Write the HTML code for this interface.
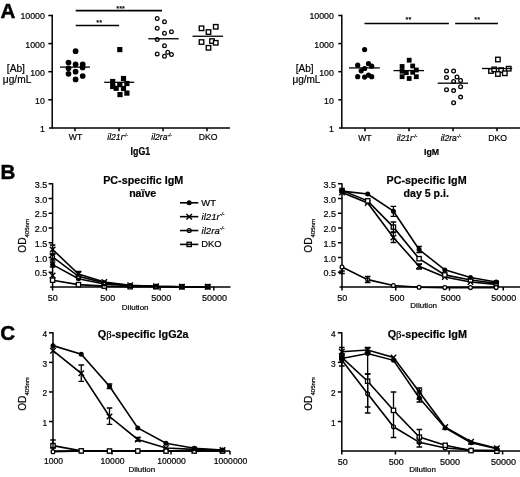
<!DOCTYPE html>
<html><head><meta charset="utf-8"><title>Figure</title>
<style>
html,body{margin:0;padding:0;background:#fff;}
body{width:520px;height:477px;overflow:hidden;font-family:"Liberation Sans",sans-serif;}
svg{display:block;filter:grayscale(1);}
svg text{font-family:"Liberation Sans",sans-serif;fill:#000;stroke:#000;stroke-width:0.2px;}
</style></head><body>
<svg width="520" height="477" viewBox="0 0 520 477">
<rect x="0" y="0" width="520" height="477" fill="#fff"/>
<text x="0.4" y="17.8" font-size="20.6" text-anchor="start" font-weight="bold" font-style="normal" style="stroke-width:0.45px">A</text>
<text x="0.4" y="179.4" font-size="20.6" text-anchor="start" font-weight="bold" font-style="normal" style="stroke-width:0.45px">B</text>
<text x="0.3" y="340" font-size="20.6" text-anchor="start" font-weight="bold" font-style="normal" style="stroke-width:0.45px">C</text>
<line x1="52.2" y1="14.8" x2="52.2" y2="128.6" stroke="#000" stroke-width="1.5"/>
<line x1="49" y1="128" x2="230" y2="128" stroke="#000" stroke-width="1.5"/>
<line x1="48.3" y1="15.5" x2="52.2" y2="15.5" stroke="#000" stroke-width="1.5"/>
<text x="44.9" y="19.4" font-size="8.8" text-anchor="end" font-weight="normal" font-style="normal" >10000</text>
<line x1="48.3" y1="43.6" x2="52.2" y2="43.6" stroke="#000" stroke-width="1.5"/>
<text x="44.9" y="47.5" font-size="8.8" text-anchor="end" font-weight="normal" font-style="normal" >1000</text>
<line x1="48.3" y1="71.7" x2="52.2" y2="71.7" stroke="#000" stroke-width="1.5"/>
<text x="44.9" y="75.60000000000001" font-size="8.8" text-anchor="end" font-weight="normal" font-style="normal" >100</text>
<line x1="48.3" y1="99.80000000000001" x2="52.2" y2="99.80000000000001" stroke="#000" stroke-width="1.5"/>
<text x="44.9" y="103.70000000000002" font-size="8.8" text-anchor="end" font-weight="normal" font-style="normal" >10</text>
<text x="44.9" y="131.8" font-size="8.8" text-anchor="end" font-weight="normal" font-style="normal" >1</text>
<text x="15.9" y="72.4" font-size="10.2" text-anchor="middle" font-weight="normal" font-style="normal" >[Ab]</text>
<text x="17.1" y="83.3" font-size="10.2" text-anchor="middle" font-weight="normal" font-style="normal" >&#956;g/mL</text>
<line x1="75" y1="128" x2="75" y2="131.2" stroke="#000" stroke-width="1.5"/>
<line x1="119" y1="128" x2="119" y2="131.2" stroke="#000" stroke-width="1.5"/>
<line x1="163" y1="128" x2="163" y2="131.2" stroke="#000" stroke-width="1.5"/>
<line x1="207" y1="128" x2="207" y2="131.2" stroke="#000" stroke-width="1.5"/>
<text x="75.5" y="140.4" font-size="8.7" text-anchor="middle" font-weight="normal" font-style="normal" >WT</text>
<text x="117.5" y="140.4" font-size="8.6" text-anchor="middle" font-weight="normal" font-style="italic" >il21r<tspan font-size="4.5" dy="-3">-/-</tspan></text>
<text x="161.5" y="140.4" font-size="8.6" text-anchor="middle" font-weight="normal" font-style="italic" >il2ra<tspan font-size="4.5" dy="-3">-/-</tspan></text>
<text x="208.2" y="140.4" font-size="8.7" text-anchor="middle" font-weight="normal" font-style="normal" >DKO</text>
<g transform="translate(140.4,154.9) scale(0.86,1)"><text x="0" y="0" font-size="10.3" text-anchor="middle" font-weight="bold">IgG1</text></g>
<circle cx="75.6" cy="51.2" r="2.85" fill="#000"/>
<circle cx="68.5" cy="62.5" r="2.85" fill="#000"/>
<circle cx="75.6" cy="64.4" r="2.85" fill="#000"/>
<circle cx="82.7" cy="64.4" r="2.85" fill="#000"/>
<circle cx="68.5" cy="68.3" r="2.85" fill="#000"/>
<circle cx="75.6" cy="71.7" r="2.85" fill="#000"/>
<circle cx="68.5" cy="73.8" r="2.85" fill="#000"/>
<circle cx="82.7" cy="76" r="2.85" fill="#000"/>
<circle cx="75.6" cy="79.4" r="2.85" fill="#000"/>
<circle cx="82.6" cy="67.4" r="2.85" fill="#000"/>
<rect x="117.2" y="47.0" width="5.2" height="5.2" fill="#000"/>
<rect x="120.9" y="75.9" width="5.2" height="5.2" fill="#000"/>
<rect x="110.10000000000001" y="78.9" width="5.2" height="5.2" fill="#000"/>
<rect x="110.10000000000001" y="83.9" width="5.2" height="5.2" fill="#000"/>
<rect x="124.30000000000001" y="80.9" width="5.2" height="5.2" fill="#000"/>
<rect x="117.2" y="82.0" width="5.2" height="5.2" fill="#000"/>
<rect x="113.60000000000001" y="85.7" width="5.2" height="5.2" fill="#000"/>
<rect x="120.9" y="85.9" width="5.2" height="5.2" fill="#000"/>
<rect x="117.4" y="92.0" width="5.2" height="5.2" fill="#000"/>
<rect x="124.30000000000001" y="90.5" width="5.2" height="5.2" fill="#000"/>
<circle cx="157.25" cy="18.55" r="1.85" fill="#fff" stroke="#000" stroke-width="1.3"/>
<circle cx="164.5" cy="21.8" r="1.85" fill="#fff" stroke="#000" stroke-width="1.3"/>
<circle cx="157.25" cy="28.3" r="1.85" fill="#fff" stroke="#000" stroke-width="1.3"/>
<circle cx="164.5" cy="33.3" r="1.85" fill="#fff" stroke="#000" stroke-width="1.3"/>
<circle cx="171.5" cy="31.8" r="1.85" fill="#fff" stroke="#000" stroke-width="1.3"/>
<circle cx="157.25" cy="39.55" r="1.85" fill="#fff" stroke="#000" stroke-width="1.3"/>
<circle cx="164.5" cy="45.8" r="1.85" fill="#fff" stroke="#000" stroke-width="1.3"/>
<circle cx="157.25" cy="54.05" r="1.85" fill="#fff" stroke="#000" stroke-width="1.3"/>
<circle cx="164.5" cy="56.3" r="1.85" fill="#fff" stroke="#000" stroke-width="1.3"/>
<circle cx="167.75" cy="52.3" r="1.85" fill="#fff" stroke="#000" stroke-width="1.3"/>
<circle cx="171.5" cy="54.55" r="1.85" fill="#fff" stroke="#000" stroke-width="1.3"/>
<rect x="199.25" y="26.05" width="4.5" height="4.5" fill="#fff" stroke="#000" stroke-width="1.35"/>
<rect x="206.25" y="29.799999999999997" width="4.5" height="4.5" fill="#fff" stroke="#000" stroke-width="1.35"/>
<rect x="213.5" y="24.55" width="4.5" height="4.5" fill="#fff" stroke="#000" stroke-width="1.35"/>
<rect x="199.25" y="39.8" width="4.5" height="4.5" fill="#fff" stroke="#000" stroke-width="1.35"/>
<rect x="206.25" y="45.55" width="4.5" height="4.5" fill="#fff" stroke="#000" stroke-width="1.35"/>
<rect x="209.75" y="38.8" width="4.5" height="4.5" fill="#fff" stroke="#000" stroke-width="1.35"/>
<rect x="213.5" y="40.55" width="4.5" height="4.5" fill="#fff" stroke="#000" stroke-width="1.35"/>
<line x1="60" y1="67.1" x2="90" y2="67.1" stroke="#000" stroke-width="1.3"/>
<line x1="104.2" y1="82.3" x2="134.2" y2="82.3" stroke="#000" stroke-width="1.3"/>
<line x1="148.25" y1="38.75" x2="178.75" y2="38.75" stroke="#000" stroke-width="1.3"/>
<line x1="192.5" y1="36.25" x2="223" y2="36.25" stroke="#000" stroke-width="1.3"/>
<line x1="75.7" y1="10.6" x2="162" y2="10.6" stroke="#000" stroke-width="1.6"/>
<text x="120.6" y="10.5" font-size="7.4" text-anchor="middle" font-weight="normal" font-style="normal" >***</text>
<line x1="75.7" y1="25.5" x2="119.1" y2="25.5" stroke="#000" stroke-width="1.6"/>
<text x="99.2" y="25.4" font-size="7.4" text-anchor="middle" font-weight="normal" font-style="normal" >**</text>
<line x1="341.8" y1="14.8" x2="341.8" y2="128.6" stroke="#000" stroke-width="1.5"/>
<line x1="339" y1="128" x2="520" y2="128" stroke="#000" stroke-width="1.5"/>
<line x1="338.3" y1="15.5" x2="341.8" y2="15.5" stroke="#000" stroke-width="1.5"/>
<text x="333.9" y="19.4" font-size="8.8" text-anchor="end" font-weight="normal" font-style="normal" >10000</text>
<line x1="338.3" y1="43.6" x2="341.8" y2="43.6" stroke="#000" stroke-width="1.5"/>
<text x="333.9" y="47.5" font-size="8.8" text-anchor="end" font-weight="normal" font-style="normal" >1000</text>
<line x1="338.3" y1="71.7" x2="341.8" y2="71.7" stroke="#000" stroke-width="1.5"/>
<text x="333.9" y="75.60000000000001" font-size="8.8" text-anchor="end" font-weight="normal" font-style="normal" >100</text>
<line x1="338.3" y1="99.80000000000001" x2="341.8" y2="99.80000000000001" stroke="#000" stroke-width="1.5"/>
<text x="333.9" y="103.70000000000002" font-size="8.8" text-anchor="end" font-weight="normal" font-style="normal" >10</text>
<text x="333.9" y="131.8" font-size="8.8" text-anchor="end" font-weight="normal" font-style="normal" >1</text>
<text x="304.7" y="72.4" font-size="10" text-anchor="middle" font-weight="normal" font-style="normal" >[Ab]</text>
<text x="306.4" y="83.3" font-size="10" text-anchor="middle" font-weight="normal" font-style="normal" >&#956;g/mL</text>
<line x1="365" y1="128" x2="365" y2="131.2" stroke="#000" stroke-width="1.5"/>
<line x1="409" y1="128" x2="409" y2="131.2" stroke="#000" stroke-width="1.5"/>
<line x1="453" y1="128" x2="453" y2="131.2" stroke="#000" stroke-width="1.5"/>
<line x1="497" y1="128" x2="497" y2="131.2" stroke="#000" stroke-width="1.5"/>
<text x="364.9" y="140.8" font-size="8.7" text-anchor="middle" font-weight="normal" font-style="normal" >WT</text>
<text x="406.9" y="140.8" font-size="8.6" text-anchor="middle" font-weight="normal" font-style="italic" >il21r<tspan font-size="4.5" dy="-3">-/-</tspan></text>
<text x="450.9" y="140.8" font-size="8.6" text-anchor="middle" font-weight="normal" font-style="italic" >il2ra<tspan font-size="4.5" dy="-3">-/-</tspan></text>
<text x="497.59999999999997" y="140.8" font-size="8.7" text-anchor="middle" font-weight="normal" font-style="normal" >DKO</text>
<g transform="translate(431.6,154.8) scale(0.92,1)"><text x="0" y="0" font-size="9.6" text-anchor="middle" font-weight="bold">IgM</text></g>
<circle cx="364.6" cy="49.6" r="2.6" fill="#000"/>
<circle cx="368.5" cy="63.7" r="2.6" fill="#000"/>
<circle cx="357.7" cy="65.2" r="2.6" fill="#000"/>
<circle cx="371.7" cy="66.2" r="2.6" fill="#000"/>
<circle cx="364.6" cy="68.5" r="2.6" fill="#000"/>
<circle cx="361.2" cy="70.8" r="2.6" fill="#000"/>
<circle cx="368.5" cy="75.2" r="2.6" fill="#000"/>
<circle cx="357.7" cy="76.7" r="2.6" fill="#000"/>
<circle cx="364.6" cy="77.1" r="2.6" fill="#000"/>
<circle cx="371.7" cy="76.7" r="2.6" fill="#000"/>
<rect x="406.8" y="57.800000000000004" width="4.8" height="4.8" fill="#000"/>
<rect x="399.70000000000005" y="64.1" width="4.8" height="4.8" fill="#000"/>
<rect x="410.3" y="63.6" width="4.8" height="4.8" fill="#000"/>
<rect x="413.90000000000003" y="67.6" width="4.8" height="4.8" fill="#000"/>
<rect x="399.70000000000005" y="68.89999999999999" width="4.8" height="4.8" fill="#000"/>
<rect x="403.90000000000003" y="70.3" width="4.8" height="4.8" fill="#000"/>
<rect x="410.3" y="69.89999999999999" width="4.8" height="4.8" fill="#000"/>
<rect x="399.70000000000005" y="74.3" width="4.8" height="4.8" fill="#000"/>
<rect x="406.8" y="76.1" width="4.8" height="4.8" fill="#000"/>
<rect x="413.90000000000003" y="74.3" width="4.8" height="4.8" fill="#000"/>
<circle cx="446.5" cy="71.0" r="1.85" fill="#fff" stroke="#000" stroke-width="1.3"/>
<circle cx="453.6" cy="71.0" r="1.85" fill="#fff" stroke="#000" stroke-width="1.3"/>
<circle cx="446.5" cy="77.5" r="1.85" fill="#fff" stroke="#000" stroke-width="1.3"/>
<circle cx="457.0" cy="77.0" r="1.85" fill="#fff" stroke="#000" stroke-width="1.3"/>
<circle cx="453.6" cy="81.39999999999999" r="1.85" fill="#fff" stroke="#000" stroke-width="1.3"/>
<circle cx="460.6" cy="80.5" r="1.85" fill="#fff" stroke="#000" stroke-width="1.3"/>
<circle cx="460.6" cy="86.7" r="1.85" fill="#fff" stroke="#000" stroke-width="1.3"/>
<circle cx="446.5" cy="89.7" r="1.85" fill="#fff" stroke="#000" stroke-width="1.3"/>
<circle cx="453.6" cy="90.6" r="1.85" fill="#fff" stroke="#000" stroke-width="1.3"/>
<circle cx="460.6" cy="97.1" r="1.85" fill="#fff" stroke="#000" stroke-width="1.3"/>
<circle cx="453.6" cy="102.8" r="1.85" fill="#fff" stroke="#000" stroke-width="1.3"/>
<rect x="495.65" y="57.25" width="4.5" height="4.5" fill="#fff" stroke="#000" stroke-width="1.35"/>
<rect x="488.75" y="68.75" width="4.5" height="4.5" fill="#fff" stroke="#000" stroke-width="1.35"/>
<rect x="491.95" y="67.14999999999999" width="4.5" height="4.5" fill="#fff" stroke="#000" stroke-width="1.35"/>
<rect x="498.85" y="67.85" width="4.5" height="4.5" fill="#fff" stroke="#000" stroke-width="1.35"/>
<rect x="506.45" y="66.45" width="4.5" height="4.5" fill="#fff" stroke="#000" stroke-width="1.35"/>
<rect x="495.65" y="71.75" width="4.5" height="4.5" fill="#fff" stroke="#000" stroke-width="1.35"/>
<rect x="502.55" y="71.05" width="4.5" height="4.5" fill="#fff" stroke="#000" stroke-width="1.35"/>
<line x1="349" y1="67.9" x2="379.8" y2="67.9" stroke="#000" stroke-width="1.3"/>
<line x1="393.5" y1="70.6" x2="424" y2="70.6" stroke="#000" stroke-width="1.3"/>
<line x1="437.7" y1="83.2" x2="468" y2="83.2" stroke="#000" stroke-width="1.3"/>
<line x1="482" y1="68.5" x2="512.2" y2="68.5" stroke="#000" stroke-width="1.3"/>
<line x1="364.5" y1="23.5" x2="448.9" y2="23.5" stroke="#000" stroke-width="1.3"/>
<text x="408.5" y="22.0" font-size="7.4" text-anchor="middle" font-weight="normal" font-style="normal" >**</text>
<line x1="455.2" y1="23.5" x2="497.9" y2="23.5" stroke="#000" stroke-width="1.3"/>
<text x="477.2" y="22.0" font-size="7.4" text-anchor="middle" font-weight="normal" font-style="normal" >**</text>
<line x1="52.6" y1="183.2" x2="52.6" y2="287.6" stroke="#000" stroke-width="1.5"/>
<line x1="50.1" y1="287" x2="230.5" y2="287" stroke="#000" stroke-width="1.5"/>
<line x1="48.6" y1="272.25" x2="52.6" y2="272.25" stroke="#000" stroke-width="1.5"/>
<text x="47.2" y="276.25" font-size="9" text-anchor="end" font-weight="normal" font-style="normal" >0.5</text>
<line x1="48.6" y1="257.5" x2="52.6" y2="257.5" stroke="#000" stroke-width="1.5"/>
<text x="47.2" y="261.5" font-size="9" text-anchor="end" font-weight="normal" font-style="normal" >1.0</text>
<line x1="48.6" y1="242.75" x2="52.6" y2="242.75" stroke="#000" stroke-width="1.5"/>
<text x="47.2" y="246.75" font-size="9" text-anchor="end" font-weight="normal" font-style="normal" >1.5</text>
<line x1="48.6" y1="228.0" x2="52.6" y2="228.0" stroke="#000" stroke-width="1.5"/>
<text x="47.2" y="232.0" font-size="9" text-anchor="end" font-weight="normal" font-style="normal" >2.0</text>
<line x1="48.6" y1="213.25" x2="52.6" y2="213.25" stroke="#000" stroke-width="1.5"/>
<text x="47.2" y="217.25" font-size="9" text-anchor="end" font-weight="normal" font-style="normal" >2.5</text>
<line x1="48.6" y1="198.5" x2="52.6" y2="198.5" stroke="#000" stroke-width="1.5"/>
<text x="47.2" y="202.5" font-size="9" text-anchor="end" font-weight="normal" font-style="normal" >3.0</text>
<line x1="48.6" y1="183.75" x2="52.6" y2="183.75" stroke="#000" stroke-width="1.5"/>
<text x="47.2" y="187.75" font-size="9" text-anchor="end" font-weight="normal" font-style="normal" >3.5</text>
<line x1="52.6" y1="287" x2="52.6" y2="290.6" stroke="#000" stroke-width="1.5"/>
<text x="52.800000000000004" y="300.5" font-size="9" text-anchor="middle" font-weight="normal" font-style="normal" >50</text>
<line x1="106.35" y1="287" x2="106.35" y2="290.6" stroke="#000" stroke-width="1.5"/>
<text x="107.64999999999999" y="300.5" font-size="9" text-anchor="middle" font-weight="normal" font-style="normal" >500</text>
<line x1="160.1" y1="287" x2="160.1" y2="290.6" stroke="#000" stroke-width="1.5"/>
<text x="161.29999999999998" y="300.5" font-size="9" text-anchor="middle" font-weight="normal" font-style="normal" >5000</text>
<line x1="213.85" y1="287" x2="213.85" y2="290.6" stroke="#000" stroke-width="1.5"/>
<text x="214.45" y="300.5" font-size="9" text-anchor="middle" font-weight="normal" font-style="normal" >50000</text>
<text x="135.2" y="309.5" font-size="8" text-anchor="middle" font-weight="normal" font-style="normal" >Dilution</text>
<text x="143.2" y="184.2" font-size="10.75" text-anchor="middle" font-weight="bold" font-style="normal" >PC-specific IgM</text>
<text x="142.7" y="197.3" font-size="10.6" text-anchor="middle" font-weight="bold" font-style="normal" >na&#239;ve</text>
<g transform="translate(25.7,252.7) rotate(-90)"><text x="0" y="0" font-size="10.2" text-anchor="start">OD<tspan font-size="6" dy="3.2">405nm</tspan></text></g>
<polyline points="52.6,280.21 78.45,284.64 104.30000000000001,286.12 130.15,286.7 156.0,286.7 181.85,286.7 207.70000000000002,286.7" fill="none" stroke="#000" stroke-width="1.6"/>
<rect x="50.45" y="278.06" width="4.3" height="4.3" fill="#fff" stroke="#000" stroke-width="1.3"/>
<rect x="76.3" y="282.49" width="4.3" height="4.3" fill="#fff" stroke="#000" stroke-width="1.3"/>
<rect x="102.15" y="283.97" width="4.3" height="4.3" fill="#fff" stroke="#000" stroke-width="1.3"/>
<rect x="128.0" y="284.55" width="4.3" height="4.3" fill="#fff" stroke="#000" stroke-width="1.3"/>
<rect x="153.85" y="284.55" width="4.3" height="4.3" fill="#fff" stroke="#000" stroke-width="1.3"/>
<rect x="179.7" y="284.55" width="4.3" height="4.3" fill="#fff" stroke="#000" stroke-width="1.3"/>
<rect x="205.55" y="284.55" width="4.3" height="4.3" fill="#fff" stroke="#000" stroke-width="1.3"/>
<polyline points="52.6,264.58 78.45,278.74 104.30000000000001,284.05 130.15,285.82 156.0,286.56 181.85,286.7 207.70000000000002,286.7" fill="none" stroke="#000" stroke-width="1.6"/>
<circle cx="52.6" cy="264.58" r="2.5" fill="#000"/>
<circle cx="78.45" cy="278.74" r="2.5" fill="#000"/>
<circle cx="104.30000000000001" cy="284.05" r="2.5" fill="#000"/>
<circle cx="130.15" cy="285.82" r="2.5" fill="#000"/>
<circle cx="156.0" cy="286.56" r="2.5" fill="#000"/>
<circle cx="181.85" cy="286.7" r="2.5" fill="#000"/>
<circle cx="207.70000000000002" cy="286.7" r="2.5" fill="#000"/>
<path d="M52.6 262L52.6 267M49.800000000000004 262L55.4 262M49.800000000000004 267L55.4 267" stroke="#000" stroke-width="1.3" fill="none"/>
<polyline points="52.6,256.91 78.45,276.38 104.30000000000001,282.87 130.15,285.52 156.0,286.41 181.85,286.7 207.70000000000002,286.7" fill="none" stroke="#000" stroke-width="1.6"/>
<circle cx="52.6" cy="256.91" r="1.9" fill="#fff" stroke="#000" stroke-width="1.3"/>
<circle cx="78.45" cy="276.38" r="1.9" fill="#fff" stroke="#000" stroke-width="1.3"/>
<circle cx="104.30000000000001" cy="282.87" r="1.9" fill="#fff" stroke="#000" stroke-width="1.3"/>
<circle cx="130.15" cy="285.52" r="1.9" fill="#fff" stroke="#000" stroke-width="1.3"/>
<circle cx="156.0" cy="286.41" r="1.9" fill="#fff" stroke="#000" stroke-width="1.3"/>
<circle cx="181.85" cy="286.7" r="1.9" fill="#fff" stroke="#000" stroke-width="1.3"/>
<circle cx="207.70000000000002" cy="286.7" r="1.9" fill="#fff" stroke="#000" stroke-width="1.3"/>
<path d="M52.6 254L52.6 260M49.800000000000004 254L55.4 254M49.800000000000004 260L55.4 260" stroke="#000" stroke-width="1.3" fill="none"/>
<polyline points="52.6,249.53 78.45,274.02 104.30000000000001,281.99 130.15,285.23 156.0,286.26 181.85,286.7 207.70000000000002,286.7" fill="none" stroke="#000" stroke-width="1.6"/>
<path d="M49.85 246.78L55.35 252.28M49.85 252.28L55.35 246.78" stroke="#000" stroke-width="1.4" fill="none"/>
<path d="M75.7 271.27L81.2 276.77M75.7 276.77L81.2 271.27" stroke="#000" stroke-width="1.4" fill="none"/>
<path d="M101.55000000000001 279.24L107.05000000000001 284.74M101.55000000000001 284.74L107.05000000000001 279.24" stroke="#000" stroke-width="1.4" fill="none"/>
<path d="M127.4 282.48L132.9 287.98M127.4 287.98L132.9 282.48" stroke="#000" stroke-width="1.4" fill="none"/>
<path d="M153.25 283.51L158.75 289.01M153.25 289.01L158.75 283.51" stroke="#000" stroke-width="1.4" fill="none"/>
<path d="M179.1 283.95L184.6 289.45M179.1 289.45L184.6 283.95" stroke="#000" stroke-width="1.4" fill="none"/>
<path d="M204.95000000000002 283.95L210.45000000000002 289.45M204.95000000000002 289.45L210.45000000000002 283.95" stroke="#000" stroke-width="1.4" fill="none"/>
<path d="M52.6 245L52.6 254M49.800000000000004 245L55.4 245M49.800000000000004 254L55.4 254" stroke="#000" stroke-width="1.3" fill="none"/>
<path d="M78.45 271.5L78.45 276M75.65 271.5L81.25 271.5M75.65 276L81.25 276" stroke="#000" stroke-width="1.3" fill="none"/>
<line x1="180" y1="202.8" x2="198.3" y2="202.8" stroke="#000" stroke-width="1.6"/>
<circle cx="189.2" cy="202.8" r="2.5" fill="#000"/>
<text x="201.3" y="205.8" font-size="9.4" text-anchor="start" font-weight="normal" font-style="normal" >WT</text>
<line x1="180" y1="216.67000000000002" x2="198.3" y2="216.67000000000002" stroke="#000" stroke-width="1.6"/>
<path d="M186.45 213.92000000000002L191.95 219.42000000000002M186.45 219.42000000000002L191.95 213.92000000000002" stroke="#000" stroke-width="1.4" fill="none"/>
<text x="201.6" y="219.67000000000002" font-size="9.6" text-anchor="start" font-weight="normal" font-style="italic" >il21r<tspan font-size="5" dy="-3.2">-/-</tspan></text>
<line x1="180" y1="230.54000000000002" x2="198.3" y2="230.54000000000002" stroke="#000" stroke-width="1.6"/>
<circle cx="189.2" cy="230.54000000000002" r="1.9" fill="none" stroke="#000" stroke-width="1.3"/>
<text x="201.6" y="233.54000000000002" font-size="9.6" text-anchor="start" font-weight="normal" font-style="italic" >il2ra<tspan font-size="5" dy="-3.2">-/-</tspan></text>
<line x1="180" y1="244.41000000000003" x2="198.3" y2="244.41000000000003" stroke="#000" stroke-width="1.6"/>
<rect x="187.04999999999998" y="242.26000000000002" width="4.3" height="4.3" fill="none" stroke="#000" stroke-width="1.3"/>
<text x="201.3" y="247.41000000000003" font-size="9.4" text-anchor="start" font-weight="normal" font-style="normal" >DKO</text>
<path d="M49.85 272.65L55.35 278.15M49.85 278.15L55.35 272.65" stroke="#000" stroke-width="1.4" fill="none"/>
<line x1="342.0" y1="183.2" x2="342.0" y2="287.6" stroke="#000" stroke-width="1.5"/>
<line x1="339.5" y1="287" x2="520" y2="287" stroke="#000" stroke-width="1.5"/>
<line x1="338.0" y1="272.25" x2="342.0" y2="272.25" stroke="#000" stroke-width="1.5"/>
<text x="336.0" y="276.25" font-size="9" text-anchor="end" font-weight="normal" font-style="normal" >0.5</text>
<line x1="338.0" y1="257.5" x2="342.0" y2="257.5" stroke="#000" stroke-width="1.5"/>
<text x="336.0" y="261.5" font-size="9" text-anchor="end" font-weight="normal" font-style="normal" >1.0</text>
<line x1="338.0" y1="242.75" x2="342.0" y2="242.75" stroke="#000" stroke-width="1.5"/>
<text x="336.0" y="246.75" font-size="9" text-anchor="end" font-weight="normal" font-style="normal" >1.5</text>
<line x1="338.0" y1="228.0" x2="342.0" y2="228.0" stroke="#000" stroke-width="1.5"/>
<text x="336.0" y="232.0" font-size="9" text-anchor="end" font-weight="normal" font-style="normal" >2.0</text>
<line x1="338.0" y1="213.25" x2="342.0" y2="213.25" stroke="#000" stroke-width="1.5"/>
<text x="336.0" y="217.25" font-size="9" text-anchor="end" font-weight="normal" font-style="normal" >2.5</text>
<line x1="338.0" y1="198.5" x2="342.0" y2="198.5" stroke="#000" stroke-width="1.5"/>
<text x="336.0" y="202.5" font-size="9" text-anchor="end" font-weight="normal" font-style="normal" >3.0</text>
<line x1="338.0" y1="183.75" x2="342.0" y2="183.75" stroke="#000" stroke-width="1.5"/>
<text x="336.0" y="187.75" font-size="9" text-anchor="end" font-weight="normal" font-style="normal" >3.5</text>
<line x1="342.0" y1="287" x2="342.0" y2="290.6" stroke="#000" stroke-width="1.5"/>
<text x="342.2" y="300.5" font-size="9" text-anchor="middle" font-weight="normal" font-style="normal" >50</text>
<line x1="395.75" y1="287" x2="395.75" y2="290.6" stroke="#000" stroke-width="1.5"/>
<text x="397.05" y="300.5" font-size="9" text-anchor="middle" font-weight="normal" font-style="normal" >500</text>
<line x1="449.5" y1="287" x2="449.5" y2="290.6" stroke="#000" stroke-width="1.5"/>
<text x="450.7" y="300.5" font-size="9" text-anchor="middle" font-weight="normal" font-style="normal" >5000</text>
<line x1="503.25" y1="287" x2="503.25" y2="290.6" stroke="#000" stroke-width="1.5"/>
<text x="503.85" y="300.5" font-size="9" text-anchor="middle" font-weight="normal" font-style="normal" >50000</text>
<text x="423.7" y="307.8" font-size="8" text-anchor="middle" font-weight="normal" font-style="normal" >Dilution</text>
<text x="426.6" y="183.9" font-size="10.75" text-anchor="middle" font-weight="bold" font-style="normal" >PC-specific IgM</text>
<text x="426.2" y="197.3" font-size="10.6" text-anchor="middle" font-weight="bold" font-style="normal" >day 5 p.i.</text>
<g transform="translate(312.0,252.7) rotate(-90)"><text x="0" y="0" font-size="10.2" text-anchor="start">OD<tspan font-size="6" dy="3.2">405nm</tspan></text></g>
<polyline points="342.0,266.94 367.7,279.62 393.4,285.52 419.1,287.3 444.8,287.59 470.5,287.59 496.2,287.59" fill="none" stroke="#000" stroke-width="1.6"/>
<circle cx="342.0" cy="266.94" r="1.9" fill="#fff" stroke="#000" stroke-width="1.3"/>
<circle cx="367.7" cy="279.62" r="1.9" fill="#fff" stroke="#000" stroke-width="1.3"/>
<circle cx="393.4" cy="285.52" r="1.9" fill="#fff" stroke="#000" stroke-width="1.3"/>
<circle cx="419.1" cy="287.3" r="1.9" fill="#fff" stroke="#000" stroke-width="1.3"/>
<circle cx="444.8" cy="287.59" r="1.9" fill="#fff" stroke="#000" stroke-width="1.3"/>
<circle cx="470.5" cy="287.59" r="1.9" fill="#fff" stroke="#000" stroke-width="1.3"/>
<circle cx="496.2" cy="287.59" r="1.9" fill="#fff" stroke="#000" stroke-width="1.3"/>
<path d="M367.7 276.5L367.7 282.5M364.9 276.5L370.5 276.5M364.9 282.5L370.5 282.5" stroke="#000" stroke-width="1.3" fill="none"/>
<path d="M342.0 271L342.0 273.5M339.2 271L344.8 271M339.2 273.5L344.8 273.5" stroke="#000" stroke-width="1.3" fill="none"/>
<polyline points="342.0,192.6 367.7,202.93 393.4,237.44 419.1,266.35 444.8,276.97 470.5,281.99 496.2,284.35" fill="none" stroke="#000" stroke-width="1.6"/>
<path d="M339.25 189.85L344.75 195.35M339.25 195.35L344.75 189.85" stroke="#000" stroke-width="1.4" fill="none"/>
<path d="M364.95 200.18L370.45 205.68M364.95 205.68L370.45 200.18" stroke="#000" stroke-width="1.4" fill="none"/>
<path d="M390.65 234.69L396.15 240.19M390.65 240.19L396.15 234.69" stroke="#000" stroke-width="1.4" fill="none"/>
<path d="M416.35 263.6L421.85 269.1M416.35 269.1L421.85 263.6" stroke="#000" stroke-width="1.4" fill="none"/>
<path d="M442.05 274.22L447.55 279.72M442.05 279.72L447.55 274.22" stroke="#000" stroke-width="1.4" fill="none"/>
<path d="M467.75 279.24L473.25 284.74M467.75 284.74L473.25 279.24" stroke="#000" stroke-width="1.4" fill="none"/>
<path d="M493.45 281.6L498.95 287.1M493.45 287.1L498.95 281.6" stroke="#000" stroke-width="1.4" fill="none"/>
<path d="M393.4 232.5L393.4 242.5M390.59999999999997 232.5L396.2 232.5M390.59999999999997 242.5L396.2 242.5" stroke="#000" stroke-width="1.3" fill="none"/>
<path d="M419.1 264L419.1 269M416.3 264L421.90000000000003 264M416.3 269L421.90000000000003 269" stroke="#000" stroke-width="1.3" fill="none"/>
<polyline points="342.0,190.53 367.7,200.86 393.4,227.12 419.1,258.68 444.8,274.9 470.5,279.92 496.2,283.17" fill="none" stroke="#000" stroke-width="1.6"/>
<rect x="339.85" y="188.38" width="4.3" height="4.3" fill="#fff" stroke="#000" stroke-width="1.3"/>
<rect x="365.55" y="198.71" width="4.3" height="4.3" fill="#fff" stroke="#000" stroke-width="1.3"/>
<rect x="391.25" y="224.97" width="4.3" height="4.3" fill="#fff" stroke="#000" stroke-width="1.3"/>
<rect x="416.95000000000005" y="256.53000000000003" width="4.3" height="4.3" fill="#fff" stroke="#000" stroke-width="1.3"/>
<rect x="442.65000000000003" y="272.75" width="4.3" height="4.3" fill="#fff" stroke="#000" stroke-width="1.3"/>
<rect x="468.35" y="277.77000000000004" width="4.3" height="4.3" fill="#fff" stroke="#000" stroke-width="1.3"/>
<rect x="494.05" y="281.02000000000004" width="4.3" height="4.3" fill="#fff" stroke="#000" stroke-width="1.3"/>
<path d="M393.4 222L393.4 232M390.59999999999997 222L396.2 222M390.59999999999997 232L396.2 232" stroke="#000" stroke-width="1.3" fill="none"/>
<polyline points="342.0,191.12 367.7,194.07 393.4,211.19 419.1,249.53 444.8,269.89 470.5,277.56 496.2,281.99" fill="none" stroke="#000" stroke-width="1.6"/>
<circle cx="342.0" cy="191.12" r="2.5" fill="#000"/>
<circle cx="367.7" cy="194.07" r="2.5" fill="#000"/>
<circle cx="393.4" cy="211.19" r="2.5" fill="#000"/>
<circle cx="419.1" cy="249.53" r="2.5" fill="#000"/>
<circle cx="444.8" cy="269.89" r="2.5" fill="#000"/>
<circle cx="470.5" cy="277.56" r="2.5" fill="#000"/>
<circle cx="496.2" cy="281.99" r="2.5" fill="#000"/>
<path d="M393.4 206.3L393.4 216.3M390.59999999999997 206.3L396.2 206.3M390.59999999999997 216.3L396.2 216.3" stroke="#000" stroke-width="1.3" fill="none"/>
<path d="M419.1 246.5L419.1 252.5M416.3 246.5L421.90000000000003 246.5M416.3 252.5L421.90000000000003 252.5" stroke="#000" stroke-width="1.3" fill="none"/>
<line x1="53.0" y1="332.2" x2="53.0" y2="451.8" stroke="#000" stroke-width="1.5"/>
<line x1="53.0" y1="451.1" x2="230" y2="451.1" stroke="#000" stroke-width="1.5"/>
<line x1="49.0" y1="421.53000000000003" x2="53.0" y2="421.53000000000003" stroke="#000" stroke-width="1.5"/>
<text x="47.1" y="425.73" font-size="8.3" text-anchor="end" font-weight="normal" font-style="normal" >1</text>
<line x1="49.0" y1="391.96000000000004" x2="53.0" y2="391.96000000000004" stroke="#000" stroke-width="1.5"/>
<text x="47.1" y="396.16" font-size="8.3" text-anchor="end" font-weight="normal" font-style="normal" >2</text>
<line x1="49.0" y1="362.39" x2="53.0" y2="362.39" stroke="#000" stroke-width="1.5"/>
<text x="47.1" y="366.59" font-size="8.3" text-anchor="end" font-weight="normal" font-style="normal" >3</text>
<line x1="49.0" y1="332.82000000000005" x2="53.0" y2="332.82000000000005" stroke="#000" stroke-width="1.5"/>
<text x="47.1" y="337.02000000000004" font-size="8.3" text-anchor="end" font-weight="normal" font-style="normal" >4</text>
<text x="53.5" y="464.4" font-size="8.6" text-anchor="middle" font-weight="normal" font-style="normal" >1000</text>
<line x1="112.0" y1="451.1" x2="112.0" y2="454.5" stroke="#000" stroke-width="1.5"/>
<text x="112.5" y="464.4" font-size="8.6" text-anchor="middle" font-weight="normal" font-style="normal" >10000</text>
<line x1="171.0" y1="451.1" x2="171.0" y2="454.5" stroke="#000" stroke-width="1.5"/>
<text x="171.5" y="464.4" font-size="8.6" text-anchor="middle" font-weight="normal" font-style="normal" >100000</text>
<line x1="230.0" y1="451.1" x2="230.0" y2="454.5" stroke="#000" stroke-width="1.5"/>
<text x="230.5" y="464.4" font-size="8.6" text-anchor="middle" font-weight="normal" font-style="normal" >1000000</text>
<g transform="translate(25.7,410.8) rotate(-90)"><text x="0" y="0" font-size="10.2" text-anchor="start">OD<tspan font-size="6" dy="3.2">405nm</tspan></text></g>
<text x="143.2" y="337.8" font-size="10.8" text-anchor="middle" font-weight="bold" font-style="normal" >Q<tspan font-weight="normal" font-family="Liberation Serif, serif">&#946;</tspan>-specific IgG2a</text>
<text x="141.8" y="472.0" font-size="8" text-anchor="middle" font-weight="normal" font-style="normal" >Dilution</text>
<polyline points="53.0,451.63 81.25,450.89 109.5,451.04 137.75,451.04 166.0,451.04 194.25,451.04 222.5,451.04" fill="none" stroke="#000" stroke-width="1.6"/>
<circle cx="53.0" cy="451.63" r="1.9" fill="#fff" stroke="#000" stroke-width="1.3"/>
<circle cx="81.25" cy="450.89" r="1.9" fill="#fff" stroke="#000" stroke-width="1.3"/>
<circle cx="109.5" cy="451.04" r="1.9" fill="#fff" stroke="#000" stroke-width="1.3"/>
<circle cx="137.75" cy="451.04" r="1.9" fill="#fff" stroke="#000" stroke-width="1.3"/>
<circle cx="166.0" cy="451.04" r="1.9" fill="#fff" stroke="#000" stroke-width="1.3"/>
<circle cx="194.25" cy="451.04" r="1.9" fill="#fff" stroke="#000" stroke-width="1.3"/>
<circle cx="222.5" cy="451.04" r="1.9" fill="#fff" stroke="#000" stroke-width="1.3"/>
<polyline points="53.0,445.6 81.25,450.89 109.5,451.04 137.75,451.04 166.0,451.04 194.25,451.04 222.5,451.04" fill="none" stroke="#000" stroke-width="1.6"/>
<rect x="50.85" y="443.45000000000005" width="4.3" height="4.3" fill="#fff" stroke="#000" stroke-width="1.3"/>
<rect x="79.1" y="448.74" width="4.3" height="4.3" fill="#fff" stroke="#000" stroke-width="1.3"/>
<rect x="107.35" y="448.89000000000004" width="4.3" height="4.3" fill="#fff" stroke="#000" stroke-width="1.3"/>
<rect x="135.6" y="448.89000000000004" width="4.3" height="4.3" fill="#fff" stroke="#000" stroke-width="1.3"/>
<rect x="163.85" y="448.89000000000004" width="4.3" height="4.3" fill="#fff" stroke="#000" stroke-width="1.3"/>
<rect x="192.1" y="448.89000000000004" width="4.3" height="4.3" fill="#fff" stroke="#000" stroke-width="1.3"/>
<rect x="220.35" y="448.89000000000004" width="4.3" height="4.3" fill="#fff" stroke="#000" stroke-width="1.3"/>
<path d="M53.0 440L53.0 448M50.2 440L55.8 440M50.2 448L55.8 448" stroke="#000" stroke-width="1.3" fill="none"/>
<polyline points="53.0,350.64 81.25,373.28 109.5,416.5 137.75,439.43 166.0,447.95 194.25,449.42 222.5,450.01" fill="none" stroke="#000" stroke-width="1.6"/>
<path d="M50.25 347.89L55.75 353.39M50.25 353.39L55.75 347.89" stroke="#000" stroke-width="1.4" fill="none"/>
<path d="M78.5 370.53L84.0 376.03M78.5 376.03L84.0 370.53" stroke="#000" stroke-width="1.4" fill="none"/>
<path d="M106.75 413.75L112.25 419.25M106.75 419.25L112.25 413.75" stroke="#000" stroke-width="1.4" fill="none"/>
<path d="M135.0 436.68L140.5 442.18M135.0 442.18L140.5 436.68" stroke="#000" stroke-width="1.4" fill="none"/>
<path d="M163.25 445.2L168.75 450.7M163.25 450.7L168.75 445.2" stroke="#000" stroke-width="1.4" fill="none"/>
<path d="M191.5 446.67L197.0 452.17M191.5 452.17L197.0 446.67" stroke="#000" stroke-width="1.4" fill="none"/>
<path d="M219.75 447.26L225.25 452.76M219.75 452.76L225.25 447.26" stroke="#000" stroke-width="1.4" fill="none"/>
<path d="M81.25 365L81.25 381.3M78.45 365L84.05 365M78.45 381.3L84.05 381.3" stroke="#000" stroke-width="1.3" fill="none"/>
<path d="M109.5 408L109.5 424.3M106.7 408L112.3 408M106.7 424.3L112.3 424.3" stroke="#000" stroke-width="1.3" fill="none"/>
<path d="M137.75 437.5L137.75 441M134.95 437.5L140.55 437.5M134.95 441L140.55 441" stroke="#000" stroke-width="1.3" fill="none"/>
<polyline points="53.0,345.64 81.25,354.17 109.5,386.21 137.75,427.96 166.0,443.25 194.25,448.25 222.5,450.01" fill="none" stroke="#000" stroke-width="1.6"/>
<circle cx="53.0" cy="345.64" r="2.5" fill="#000"/>
<circle cx="81.25" cy="354.17" r="2.5" fill="#000"/>
<circle cx="109.5" cy="386.21" r="2.5" fill="#000"/>
<circle cx="137.75" cy="427.96" r="2.5" fill="#000"/>
<circle cx="166.0" cy="443.25" r="2.5" fill="#000"/>
<circle cx="194.25" cy="448.25" r="2.5" fill="#000"/>
<circle cx="222.5" cy="450.01" r="2.5" fill="#000"/>
<path d="M109.5 384L109.5 388.5M106.7 384L112.3 384M106.7 388.5L112.3 388.5" stroke="#000" stroke-width="1.3" fill="none"/>
<line x1="367.65" y1="352" x2="367.65" y2="375" stroke="#000" stroke-width="1.3"/>
<line x1="341.8" y1="332.2" x2="341.8" y2="451.8" stroke="#000" stroke-width="1.5"/>
<line x1="341.8" y1="451.1" x2="520" y2="451.1" stroke="#000" stroke-width="1.5"/>
<line x1="337.8" y1="421.53000000000003" x2="341.8" y2="421.53000000000003" stroke="#000" stroke-width="1.5"/>
<text x="335.7" y="425.73" font-size="8.3" text-anchor="end" font-weight="normal" font-style="normal" >1</text>
<line x1="337.8" y1="391.96000000000004" x2="341.8" y2="391.96000000000004" stroke="#000" stroke-width="1.5"/>
<text x="335.7" y="396.16" font-size="8.3" text-anchor="end" font-weight="normal" font-style="normal" >2</text>
<line x1="337.8" y1="362.39" x2="341.8" y2="362.39" stroke="#000" stroke-width="1.5"/>
<text x="335.7" y="366.59" font-size="8.3" text-anchor="end" font-weight="normal" font-style="normal" >3</text>
<line x1="337.8" y1="332.82000000000005" x2="341.8" y2="332.82000000000005" stroke="#000" stroke-width="1.5"/>
<text x="335.7" y="337.02000000000004" font-size="8.3" text-anchor="end" font-weight="normal" font-style="normal" >4</text>
<line x1="341.8" y1="451.1" x2="341.8" y2="454.5" stroke="#000" stroke-width="1.5"/>
<text x="342.7" y="464.9" font-size="9.0" text-anchor="middle" font-weight="normal" font-style="normal" >50</text>
<line x1="395.40000000000003" y1="451.1" x2="395.40000000000003" y2="454.5" stroke="#000" stroke-width="1.5"/>
<text x="396.3" y="464.9" font-size="9.0" text-anchor="middle" font-weight="normal" font-style="normal" >500</text>
<line x1="449.0" y1="451.1" x2="449.0" y2="454.5" stroke="#000" stroke-width="1.5"/>
<text x="449.9" y="464.9" font-size="9.0" text-anchor="middle" font-weight="normal" font-style="normal" >5000</text>
<line x1="502.6" y1="451.1" x2="502.6" y2="454.5" stroke="#000" stroke-width="1.5"/>
<text x="503.5" y="464.9" font-size="9.0" text-anchor="middle" font-weight="normal" font-style="normal" >50000</text>
<g transform="translate(311.9,410.8) rotate(-90)"><text x="0" y="0" font-size="10.2" text-anchor="start">OD<tspan font-size="6" dy="3.2">405nm</tspan></text></g>
<text x="427.3" y="337.8" font-size="10.8" text-anchor="middle" font-weight="bold" font-style="normal" >Q<tspan font-weight="normal" font-family="Liberation Serif, serif">&#946;</tspan>-specific IgM</text>
<text x="422.5" y="471.7" font-size="8" text-anchor="middle" font-weight="normal" font-style="normal" >Dilution</text>
<polyline points="341.8,360.05 367.65000000000003,393.86 393.5,426.79 419.35,442.37 445.20000000000005,447.95 471.05,450.01 496.90000000000003,450.6" fill="none" stroke="#000" stroke-width="1.6"/>
<circle cx="341.8" cy="360.05" r="1.9" fill="#fff" stroke="#000" stroke-width="1.3"/>
<circle cx="367.65000000000003" cy="393.86" r="1.9" fill="#fff" stroke="#000" stroke-width="1.3"/>
<circle cx="393.5" cy="426.79" r="1.9" fill="#fff" stroke="#000" stroke-width="1.3"/>
<circle cx="419.35" cy="442.37" r="1.9" fill="#fff" stroke="#000" stroke-width="1.3"/>
<circle cx="445.20000000000005" cy="447.95" r="1.9" fill="#fff" stroke="#000" stroke-width="1.3"/>
<circle cx="471.05" cy="450.01" r="1.9" fill="#fff" stroke="#000" stroke-width="1.3"/>
<circle cx="496.90000000000003" cy="450.6" r="1.9" fill="#fff" stroke="#000" stroke-width="1.3"/>
<path d="M367.65000000000003 374L367.65000000000003 413M364.85 374L370.45000000000005 374M364.85 413L370.45000000000005 413" stroke="#000" stroke-width="1.3" fill="none"/>
<path d="M393.5 392L393.5 437.5M390.7 392L396.3 392M390.7 437.5L396.3 437.5" stroke="#000" stroke-width="1.3" fill="none"/>
<path d="M419.35 438L419.35 447M416.55 438L422.15000000000003 438M416.55 447L422.15000000000003 447" stroke="#000" stroke-width="1.3" fill="none"/>
<polyline points="341.8,357.4 367.65000000000003,381.22 393.5,410.32 419.35,437.08 445.20000000000005,445.31 471.05,450.6 496.90000000000003,451.19" fill="none" stroke="#000" stroke-width="1.6"/>
<rect x="339.65000000000003" y="355.25" width="4.3" height="4.3" fill="#fff" stroke="#000" stroke-width="1.3"/>
<rect x="365.50000000000006" y="379.07000000000005" width="4.3" height="4.3" fill="#fff" stroke="#000" stroke-width="1.3"/>
<rect x="391.35" y="408.17" width="4.3" height="4.3" fill="#fff" stroke="#000" stroke-width="1.3"/>
<rect x="417.20000000000005" y="434.93" width="4.3" height="4.3" fill="#fff" stroke="#000" stroke-width="1.3"/>
<rect x="443.05000000000007" y="443.16" width="4.3" height="4.3" fill="#fff" stroke="#000" stroke-width="1.3"/>
<rect x="468.90000000000003" y="448.45000000000005" width="4.3" height="4.3" fill="#fff" stroke="#000" stroke-width="1.3"/>
<rect x="494.75000000000006" y="449.04" width="4.3" height="4.3" fill="#fff" stroke="#000" stroke-width="1.3"/>
<path d="M367.65000000000003 373.8L367.65000000000003 407M364.85 373.8L370.45000000000005 373.8M364.85 407L370.45000000000005 407" stroke="#000" stroke-width="1.3" fill="none"/>
<path d="M419.35 429.5L419.35 443M416.55 429.5L422.15000000000003 429.5M416.55 443L422.15000000000003 443" stroke="#000" stroke-width="1.3" fill="none"/>
<polyline points="341.8,358.58 367.65000000000003,353.58 393.5,360.34 419.35,397.97 445.20000000000005,427.96 471.05,442.66 496.90000000000003,448.84" fill="none" stroke="#000" stroke-width="1.6"/>
<circle cx="341.8" cy="358.58" r="2.5" fill="#000"/>
<circle cx="367.65000000000003" cy="353.58" r="2.5" fill="#000"/>
<circle cx="393.5" cy="360.34" r="2.5" fill="#000"/>
<circle cx="419.35" cy="397.97" r="2.5" fill="#000"/>
<circle cx="445.20000000000005" cy="427.96" r="2.5" fill="#000"/>
<circle cx="471.05" cy="442.66" r="2.5" fill="#000"/>
<circle cx="496.90000000000003" cy="448.84" r="2.5" fill="#000"/>
<path d="M341.8 354L341.8 366M339.0 354L344.6 354M339.0 366L344.6 366" stroke="#000" stroke-width="1.3" fill="none"/>
<path d="M419.35 392L419.35 402M416.55 392L422.15000000000003 392M416.55 402L422.15000000000003 402" stroke="#000" stroke-width="1.3" fill="none"/>
<polyline points="341.8,351.82 367.65000000000003,350.05 393.5,357.4 419.35,392.09 445.20000000000005,427.08 471.05,441.78 496.90000000000003,448.25" fill="none" stroke="#000" stroke-width="1.6"/>
<path d="M339.05 349.07L344.55 354.57M339.05 354.57L344.55 349.07" stroke="#000" stroke-width="1.4" fill="none"/>
<path d="M364.90000000000003 347.3L370.40000000000003 352.8M364.90000000000003 352.8L370.40000000000003 347.3" stroke="#000" stroke-width="1.4" fill="none"/>
<path d="M390.75 354.65L396.25 360.15M390.75 360.15L396.25 354.65" stroke="#000" stroke-width="1.4" fill="none"/>
<path d="M416.6 389.34L422.1 394.84M416.6 394.84L422.1 389.34" stroke="#000" stroke-width="1.4" fill="none"/>
<path d="M442.45000000000005 424.33L447.95000000000005 429.83M442.45000000000005 429.83L447.95000000000005 424.33" stroke="#000" stroke-width="1.4" fill="none"/>
<path d="M468.3 439.03L473.8 444.53M468.3 444.53L473.8 439.03" stroke="#000" stroke-width="1.4" fill="none"/>
<path d="M494.15000000000003 445.5L499.65000000000003 451.0M494.15000000000003 451.0L499.65000000000003 445.5" stroke="#000" stroke-width="1.4" fill="none"/>
<path d="M341.8 347.5L341.8 356M339.0 347.5L344.6 347.5M339.0 356L344.6 356" stroke="#000" stroke-width="1.3" fill="none"/>
<path d="M367.65000000000003 347.5L367.65000000000003 353M364.85 347.5L370.45000000000005 347.5M364.85 353L370.45000000000005 353" stroke="#000" stroke-width="1.3" fill="none"/>
<path d="M419.35 388L419.35 399M416.55 388L422.15000000000003 388M416.55 399L422.15000000000003 399" stroke="#000" stroke-width="1.3" fill="none"/>
</svg>
</body></html>
